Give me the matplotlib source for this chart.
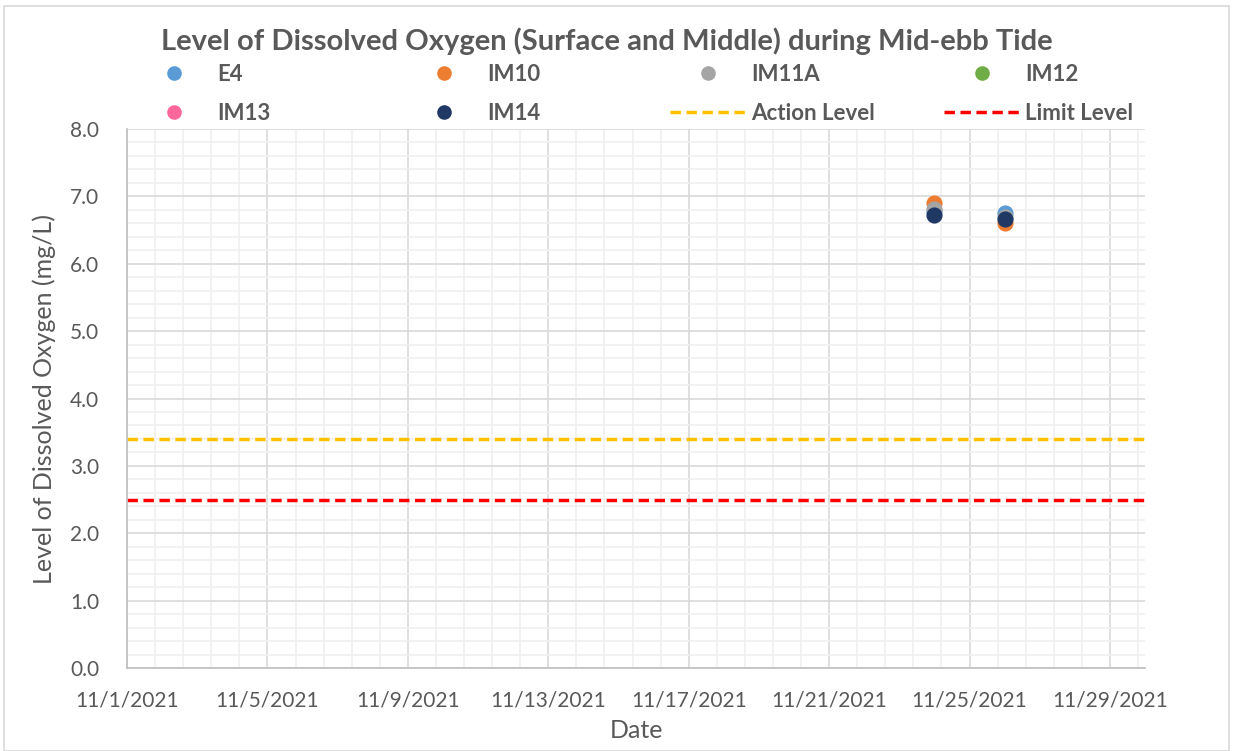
import datetime as dt

import matplotlib

matplotlib.use("Agg")
import matplotlib.dates as mdates
import matplotlib.pyplot as plt
from matplotlib.lines import Line2D
from matplotlib.patches import Rectangle
from matplotlib.ticker import FuncFormatter, MultipleLocator

plt.rcParams["font.family"] = ["Lato", "DejaVu Sans"]

# survey dates and readings (mg/L)
dates = [dt.date(2021, 11, 24), dt.date(2021, 11, 26)]
e4 = [6.78, 6.76]
im10 = [6.90, 6.60]
im11a = [6.82, 6.70]
im12 = []
im13 = []
im14 = [6.73, 6.66]

action_level = 3.4
limit_level = 2.5

stations = ["E4", "IM10", "IM11A", "IM12", "IM13", "IM14"]
series = [e4, im10, im11a, im12, im13, im14]
colors = ["#5B9BD5", "#ED7D31", "#A5A5A5", "#70AD47", "#FF6699", "#203864"]

TEXT = "#595959"

fig = plt.figure(figsize=(12.33, 7.51), dpi=100)
ax = fig.add_axes([0.103, 0.1105, 0.8257, 0.7177])

for name, vals, col in zip(stations, series, colors):
    xs = mdates.date2num(dates[: len(vals)])
    ax.scatter(xs, vals, s=135, color=col, zorder=3, label=name, linewidths=0)

dash = (0, (3, 1.6))
ax.axhline(action_level, color="#FFC000", lw=2.5, ls=dash, zorder=2)
ax.axhline(limit_level, color="#FF0000", lw=2.5, ls=dash, zorder=2)

x0 = mdates.date2num(dt.date(2021, 11, 1))
x1 = mdates.date2num(dt.date(2021, 11, 30))
ax.set_xlim(x0, x1)
ax.set_ylim(0, 8)

ax.xaxis.set_major_locator(MultipleLocator(4))
ax.xaxis.set_minor_locator(MultipleLocator(0.8))
ax.yaxis.set_major_locator(MultipleLocator(1.0))
ax.yaxis.set_minor_locator(MultipleLocator(0.2))


def fmt_date(v, pos):
    d = mdates.num2date(v)
    return f"{d.month}/{d.day}/{d.year}"


ax.xaxis.set_major_formatter(FuncFormatter(fmt_date))
ax.yaxis.set_major_formatter(FuncFormatter(lambda v, p: f"{v:.1f}"))

ax.grid(which="major", color="#D9D9D9", lw=1.2, zorder=0)
ax.grid(which="minor", color="#F0F0F0", lw=1.2, zorder=0)
ax.set_axisbelow(True)

for side in ["top", "right"]:
    ax.spines[side].set_visible(False)
for side in ["left", "bottom"]:
    ax.spines[side].set_color("#BFBFBF")
    ax.spines[side].set_linewidth(1.2)

ax.tick_params(which="both", length=0)
ax.tick_params(axis="x", pad=16, labelsize=15, labelcolor=TEXT)
ax.tick_params(axis="y", pad=20, labelsize=15, labelcolor=TEXT)

ax.set_xlabel("Date", fontsize=18, color=TEXT, labelpad=6)
ax.set_ylabel("Level of Dissolved Oxygen (mg/L)", fontsize=18, color=TEXT, labelpad=10)

fig.text(0.492, 0.945, "Level of Dissolved Oxygen (Surface and Middle) during Mid-ebb Tide",
         ha="center", va="center", fontsize=21, fontweight="bold", color=TEXT)

# legend, laid out as four columns of two rows
handles = [
    Line2D([], [], ls="none", marker="o", ms=10.5, mec="none", color=c) for c in colors
]
handles.append(Line2D([], [], color="#FFC000", lw=2.5, ls=dash))
handles.append(Line2D([], [], color="#FF0000", lw=2.5, ls=dash))
labels = stations + ["Action Level", "Limit Level"]

order = [[0, 4], [1, 5], [2, 6], [3, 7]]
col_x = [136, 406, 670, 944]
for idx, cx in zip(order, col_x):
    fig.legend(
        [handles[i] for i in idx],
        [labels[i] for i in idx],
        loc="upper left",
        bbox_to_anchor=(cx / 1233, 1 - 64 / 751),
        frameon=False,
        prop={"weight": "bold", "size": 16},
        labelcolor=TEXT,
        handlelength=3.4,
        handletextpad=0.25,
        labelspacing=0.82,
        borderpad=0,
        borderaxespad=0,
    )

fig.patches.append(Rectangle((4 / 1233, 0.0), 1225 / 1233, 1 - 6 / 751,
                             transform=fig.transFigure, fill=False,
                             edgecolor="#D9D9D9", lw=1.2))

fig.savefig("out.png", dpi=100)
